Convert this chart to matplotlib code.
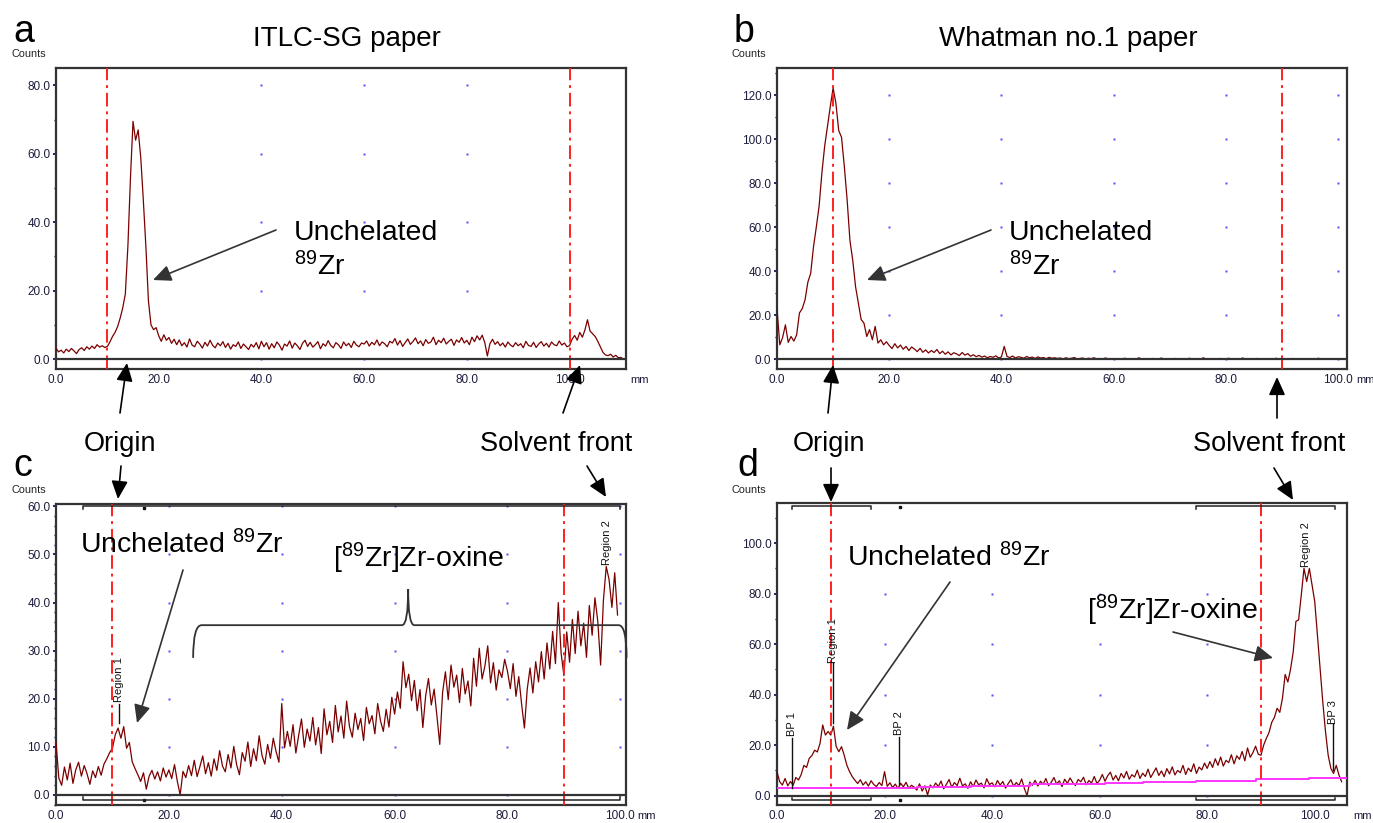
import numpy as np
import matplotlib
matplotlib.use('Agg')
import matplotlib.pyplot as plt
from matplotlib.patches import FancyArrowPatch, PathPatch
from matplotlib.path import Path
from matplotlib.ticker import MultipleLocator, FormatStrFormatter

# ---------------- data (counts sampled every 0.5 mm from 0 mm) ----------------
STEP_MM = 0.5

a_counts = [
    3.2, 2.1, 2.6, 1.8, 2.9, 2.2, 3.1, 2.4, 1.6, 2.8, 3.3, 2.5, 3.6, 2.9, 3.8, 3.1, 4.2, 3.5, 3.9, 3.4,
    3.7, 5.0, 6.6, 7.8, 9.5, 12.0, 15.0, 19.0, 33.0, 53.0, 69.5, 64.0, 67.0, 59.0, 46.6, 33.0, 17.0, 10.0, 8.6, 9.2,
    6.8, 5.2, 7.1, 5.5, 6.3, 4.6, 5.8, 4.2, 5.6, 3.9, 4.8, 3.5, 5.9, 4.1, 3.6, 5.2, 4.4, 3.2, 4.9, 3.8,
    5.5, 4.0, 3.3, 4.7, 3.9, 5.1, 3.4, 4.6, 2.9, 4.2, 3.7, 5.0, 3.1, 4.4, 3.6, 2.8, 4.3, 3.5, 4.8, 3.0,
    5.2, 3.6, 4.8, 2.9, 4.5, 3.3, 5.0, 4.1, 2.6, 4.4, 3.8, 5.3, 3.2, 4.7, 3.9, 2.8, 4.6, 5.5, 3.7, 4.9,
    3.5, 4.2, 5.1, 3.0, 4.5, 3.8, 5.4, 4.0, 3.3, 4.8, 4.2, 3.1, 5.0, 3.9, 4.6, 3.4, 5.2, 4.1, 3.6, 4.7,
    4.4, 5.3, 3.8, 4.9, 4.2, 5.6, 3.9, 5.0, 4.5, 3.6, 5.2, 4.7, 6.0, 4.1, 5.4, 3.7, 4.8, 5.9, 4.3, 5.1,
    6.2, 4.5, 5.3, 3.9, 5.7, 4.6, 5.0, 6.4, 4.2, 5.5, 4.8, 6.1, 4.4, 5.2, 5.8, 4.0, 5.6, 4.9, 6.3, 4.7,
    5.5, 4.2, 6.4, 5.1, 6.8, 5.6, 7.0, 4.8, 0.9, 4.5, 5.8, 4.3, 5.1, 3.9, 4.7, 3.5, 5.0, 4.1, 3.6, 4.8,
    3.9, 4.5, 3.3, 5.2, 4.0, 3.7, 4.9, 3.4, 4.4, 5.1, 3.8, 4.6, 3.5, 5.0, 4.2, 3.9, 5.3, 4.1, 4.7, 3.6,
    3.9, 5.8, 6.9, 5.5, 7.8, 6.4, 8.5, 11.5, 8.2, 7.4, 6.6, 5.2, 3.6, 2.0, 1.2, 1.0, 1.4, 0.6, 1.1, 0.4,
    0.5, 0.0,
]

b_counts = [
    23.0, 6.5, 9.8, 15.6, 7.6, 10.3, 8.2, 11.0, 21.0, 23.0, 27.0, 35.0, 39.0, 51.0, 60.0, 69.5, 84.7, 97.0, 106.0, 115.0,
    123.4, 116.5, 104.0, 101.0, 87.7, 72.5, 54.0, 45.0, 33.0, 25.5, 18.0, 16.4, 10.3, 13.4, 8.8, 14.9, 7.3, 8.8, 6.5, 7.9,
    6.2, 4.8, 7.0, 5.1, 6.4, 4.5, 5.8, 3.9, 5.5, 4.6, 3.4, 4.9, 3.1, 4.2, 2.8, 3.9, 3.0, 4.4, 2.5, 3.6,
    2.2, 3.3, 1.9, 2.9, 2.4, 1.6, 3.0, 1.8, 2.5, 1.3, 2.0, 1.1, 1.7, 0.9, 1.4, 0.6, 1.2, 0.8, 1.5, 0.5,
    1.0, 5.8, 1.2, 0.7, 1.4, 0.5, 1.1, 0.8, 0.4, 1.2, 0.6, 0.9, 0.3, 1.0, 0.5, 0.7, 0.2, 0.8, 0.4, 0.6,
    0.3, 0.5, 0.1, 0.6, 0.2, 0.4, 0.7, 0.1, 0.3, 0.5, 0.0, 0.4, 0.2, 0.6, 0.1, 0.3, 0.0, 0.5, 0.2, 0.1,
    0.0, 0.2, 0.0, 0.1, 0.4, 0.0, 0.0, 0.2, 0.0, 0.6, 0.0, 0.1, 0.0, 0.0, 0.3, 0.0, 0.0, 0.5, 0.0, 0.1,
    0.0, 0.0, 0.3, 0.0, 0.2, 0.0, 0.0, 0.4, 0.0, 0.0, 0.1, 0.0, 0.6, 0.0, 0.0, 0.2, 0.0, 0.0, 0.3, 0.0,
    0.0, 0.4, 0.0, 0.0, 0.2, 0.0, 0.5, 0.0, 0.0, 0.1, 0.0, 0.3, 0.0, 0.0, 0.0, 0.2, 0.0, 0.0, 0.4, 0.0,
    0.0, 0.0, 0.1, 0.0, 0.3, 0.0, 0.0, 0.0, 0.2, 0.0, 0.0, 0.0, 0.0, 0.4, 0.0, 0.0, 0.1, 0.0, 0.0, 0.0,
    0.0,
]

c_counts = [
    11.0, 3.5, 2.0, 5.8, 3.1, 6.6, 2.4, 5.2, 6.8, 3.9, 6.1, 4.4, 2.2, 5.0, 3.6, 5.9, 4.1, 6.4, 7.5, 8.8,
    9.7, 12.5, 13.9, 11.8, 14.2, 9.7, 10.9, 6.9, 5.5, 4.2, 2.8, 4.6, 1.2, 3.9, 5.1, 3.3, 4.8, 2.9, 5.6, 3.7,
    5.2, 3.4, 6.3, 2.8, 0.0, 4.9, 3.6, 6.1, 4.0, 7.2, 3.8, 5.9, 8.1, 4.4, 6.7, 3.9, 7.5, 5.1, 9.2, 6.0,
    4.8, 8.4, 5.6, 10.1, 6.3, 4.2, 8.8, 7.0, 11.0, 5.9, 9.6, 7.1, 12.3, 8.2, 6.4, 10.5, 7.6, 11.8, 9.0, 6.8,
    19.0, 9.8, 13.2, 10.1, 14.6, 8.7, 12.4, 15.8, 9.9, 13.7, 11.2, 16.1, 10.4, 14.0, 8.6, 17.9, 12.5, 15.3, 10.9, 18.6,
    13.1, 16.4, 11.8, 19.5, 14.2, 12.0, 17.0, 13.6, 15.9, 11.3, 18.2, 14.8, 16.5, 12.7, 19.0, 15.4, 13.2, 17.8, 14.1, 20.3,
    16.8, 21.4, 18.0, 27.7, 22.3, 25.1, 19.6, 23.8, 17.5, 21.9, 14.0, 20.6, 24.2, 18.7, 22.0, 16.4, 10.5, 21.3, 25.6, 19.8,
    27.0, 22.4, 24.9, 19.2, 26.3, 21.0, 23.7, 18.5, 28.4, 22.6, 30.5, 24.1, 26.8, 31.0, 23.3, 27.5, 21.8, 26.0, 24.4, 28.2,
    25.7, 22.1, 27.3, 20.5, 24.6, 18.9, 13.9, 22.0, 26.4, 21.2, 27.7, 23.5, 29.8, 24.1, 31.6, 26.2, 34.0, 27.3, 40.0, 29.5,
    24.8, 33.9, 27.6, 36.5, 29.4, 38.2, 31.0, 35.7, 28.6, 39.4, 33.2, 41.0, 36.1, 27.0, 40.5, 47.5, 44.8, 39.0, 46.2, 37.4,
]

d_counts = [
    9.5, 5.5, 4.2, 6.8, 3.9, 5.6, 4.1, 7.2, 6.2, 8.4, 12.0, 11.2, 14.8, 15.9, 18.0, 17.3, 20.7, 28.0, 24.0, 25.4,
    24.0, 27.5, 19.5, 17.4, 19.4, 16.0, 12.0, 9.5, 7.5, 6.1, 4.8, 6.3, 4.2, 5.5, 3.8, 5.9, 4.4, 3.6, 5.2, 4.0,
    9.5, 3.7, 5.1, 3.2, 4.6, 2.8, 4.9, 3.5, 5.3, 2.9, 4.1, 3.4, 2.2, 4.7, 1.8, 3.9, 0.3, 4.2, 3.1, 5.0,
    3.6, 5.8, 2.7, 4.5, 6.4, 3.3, 5.2, 4.0, 6.9, 3.8, 4.7, 2.9, 5.5, 3.6, 6.2, 4.3, 5.0, 3.1, 6.7, 4.4,
    5.1, 3.5, 6.0, 4.2, 5.6, 3.0, 4.8, 6.3, 3.7, 5.2, 4.0, 6.6, 2.9, 0.0, 5.4, 4.1, 6.1, 3.8, 5.7, 4.5,
    6.8, 3.9, 5.3, 7.2, 4.6, 5.9, 3.6, 6.5, 4.9, 7.0, 5.2, 4.0, 6.4, 5.5, 7.3, 4.3, 6.0, 5.0, 7.6, 4.8,
    6.1, 8.4, 5.7, 7.9, 9.3, 6.2, 8.0, 5.9, 8.8, 7.0, 9.6, 6.5, 8.3, 7.4, 10.1, 6.8, 8.9, 7.6, 10.5, 7.2,
    9.1, 11.0, 8.0, 9.8, 7.5, 10.7, 8.6, 11.4, 8.2, 10.0, 9.1, 12.0, 8.4, 10.9, 9.5, 12.6, 8.8, 11.3, 10.2, 12.9,
    10.8, 13.5, 11.2, 14.6, 12.0, 15.3, 11.7, 14.0, 13.1, 16.2, 12.6, 15.8, 14.4, 17.5, 13.8, 18.9, 15.2, 17.0, 19.6, 16.4,
    16.0, 20.0, 22.7, 25.0, 29.0, 31.0, 34.6, 33.0, 38.6, 48.0, 45.0, 50.0, 57.0, 69.0, 69.6, 79.5, 90.0, 84.8, 90.0, 83.5,
    76.9, 63.7, 50.5, 37.0, 25.4, 16.0, 10.8, 8.8, 12.0, 8.2, 5.5,
]

# background (magenta) line of panel d
d_bg_mm = [0, 26, 36, 47, 61, 68, 78, 89, 99, 106]
d_bg_counts = [3.2, 3.6, 4.0, 4.5, 4.9, 5.5, 5.9, 6.5, 6.9, 6.9]

tick_mm = [0, 20, 40, 60, 80, 100]

# ---------------- figure ----------------
W, H = 1373, 823
plt.rcParams['font.family'] = ['Liberation Sans', 'DejaVu Sans']
plt.rcParams['mathtext.fontset'] = 'custom'
plt.rcParams['mathtext.rm'] = 'Liberation Sans'
plt.rcParams['mathtext.it'] = 'Liberation Sans:italic'
plt.rcParams['mathtext.default'] = 'regular'

fig = plt.figure(figsize=(W / 100, H / 100), dpi=100)
fig.patch.set_facecolor('white')


def P(x, y):
    return (x / W, 1 - y / H)


def make_axes(l, t, r, b):
    return fig.add_axes([l / W, 1 - b / H, (r - l) / W, (b - t) / H])


TRACE = '#7a0000'
RED = '#ff2020'
TICKC = '#1c1c3c'


def setup(ax, xlim, ylim, ymaj, ymin, dots_x, dots_y, fronts):
    ax.set_xlim(*xlim)
    ax.set_ylim(*ylim)
    for s in ax.spines.values():
        s.set_linewidth(1.6)
        s.set_color('#333333')
    ax.axhline(0, color='#333333', lw=1.6, zorder=6)
    ax.set_xticks(tick_mm)
    ax.xaxis.set_major_formatter(FormatStrFormatter('%.1f'))
    ax.tick_params(axis='x', length=0, pad=3.5, labelsize=8.5, labelcolor=TICKC)
    ax.yaxis.set_major_locator(MultipleLocator(ymaj))
    ax.yaxis.set_minor_locator(MultipleLocator(ymin))
    ax.yaxis.set_major_formatter(FormatStrFormatter('%.1f'))
    ax.tick_params(axis='y', which='major', length=2.5, width=1.2, color='#000055',
                   labelsize=8.5, labelcolor=TICKC, pad=1.5)
    ax.tick_params(axis='y', which='minor', length=1.5, width=1.0, color='#000055')
    gx, gy = np.meshgrid(dots_x, dots_y)
    ax.plot(gx.ravel(), gy.ravel(), linestyle='none', marker='s', ms=1.6,
            mfc='#5050ff', mec='none', zorder=1)
    for f in fronts:
        ax.axvline(f, color=RED, lw=1.4, ls=(0, (7, 2.5, 1.5, 2.5)), zorder=5)


def mm_axis(values):
    return np.arange(len(values)) * STEP_MM


# ---- panel a ----
ax_a = make_axes(56, 68, 626, 369)
setup(ax_a, (0, 111), (-2.9, 85.1), 20, 10, [40, 60, 80], [0, 20, 40, 60, 80], [10, 100])
ax_a.plot(mm_axis(a_counts), a_counts, color=TRACE, lw=0.9, zorder=4)

# ---- panel b ----
ax_b = make_axes(777, 68, 1347, 369)
setup(ax_b, (0, 101.6), (-4.5, 132.5), 20, 10, [20, 40, 60, 80, 100], [0, 20, 40, 60, 80, 100, 120], [10, 90])
ax_b.plot(mm_axis(b_counts), b_counts, color=TRACE, lw=0.9, zorder=4)

# ---- panel c ----
ax_c = make_axes(56, 504, 626, 805)
setup(ax_c, (0, 101), (-2.1, 60.5), 10, 2, [20, 40, 60, 80, 100], [0, 10, 20, 30, 40, 50, 60], [10, 90])
ax_c.plot(mm_axis(c_counts), c_counts, color=TRACE, lw=0.9, zorder=4)

# ---- panel d ----
ax_d = make_axes(777, 503, 1347, 805)
setup(ax_d, (0, 106), (-3.7, 115.9), 20, 10, [20, 40, 60, 80], [0, 20, 40, 60, 80], [10, 90])
ax_d.plot(mm_axis(d_counts), d_counts, color=TRACE, lw=0.9, zorder=4)
ax_d.plot(d_bg_mm, d_bg_counts, color='#ff33ff', lw=1.4, drawstyle='steps-post', zorder=4)


# ---- region markers ----
def marker(ax, x, y0, y1, label, ylab):
    if y1 > y0:
        ax.plot([x, x], [y0, y1], color='#111111', lw=1.0, zorder=7)
    ax.text(x, ylab, label, rotation=90, ha='center', va='bottom', fontsize=8, color='#111111', zorder=7)


marker(ax_c, 11.2, 15.0, 19.0, 'Region 1', 19.3)
marker(ax_c, 97.6, 47.5, 47.5, 'Region 2', 47.8)
marker(ax_d, 2.7, 3.0, 22.9, 'BP 1', 23.7)
marker(ax_d, 10.4, 28.7, 52.5, 'Region 1', 52.5)
marker(ax_d, 22.7, 4.2, 23.2, 'BP 2', 23.9)
marker(ax_d, 98.4, 90.5, 90.5, 'Region 2', 90.5)
marker(ax_d, 103.4, 10.1, 28.2, 'BP 3', 28.5)


# ---- region brackets ----
def bracket(ax, x0, x1, y, dy):
    ax.plot([x0, x0, x1, x1], [y + dy, y, y, y + dy], color='#222222', lw=1.1, zorder=7, clip_on=False)


bracket(ax_c, 4.7, 99.9, 60.0, -0.6)
bracket(ax_c, 4.7, 99.9, -1.0, 0.5)
ax_c.plot([15.6, 15.6], [59.6, -1.0], linestyle='none', marker='s', ms=2.0, color='#111111')
bracket(ax_d, 2.7, 17.5, 114.8, -1.1)
bracket(ax_d, 78.0, 103.7, 114.8, -1.1)
bracket(ax_d, 2.7, 17.5, -1.8, 0.9)
bracket(ax_d, 78.0, 103.7, -1.8, 0.9)
ax_d.plot([22.8, 22.8], [114.2, -1.8], linestyle='none', marker='s', ms=2.0, color='#111111')

# ---- curly brace over the oxine region in panel c ----
brace_verts = [(24.3, 28.5), (24.3, 35.3), (25.8, 35.3), (61.3, 35.3), (62.4, 35.3), (62.4, 42.8),
               (62.4, 35.3), (63.5, 35.3), (99.7, 35.3), (101.1, 35.3), (101.1, 28.5)]
brace_codes = [Path.MOVETO, Path.CURVE3, Path.CURVE3, Path.LINETO, Path.CURVE3, Path.CURVE3,
               Path.CURVE3, Path.CURVE3, Path.LINETO, Path.CURVE3, Path.CURVE3]
ax_c.add_patch(PathPatch(Path(brace_verts, brace_codes), fc='none', ec='#333333', lw=1.3,
                         zorder=8, clip_on=False))

# ---- "mm" unit labels ----
for (xp, yp) in [(630, 380), (1356, 380), (637, 816), (1353, 816)]:
    fig.text(*P(xp, yp), 'mm', fontsize=8, color=TICKC, ha='left', va='center')

# ---- panel letters, "Counts", titles ----
for letter, (lx, ly), (cx, cy) in [('a', (13, 42), (11, 57)), ('b', (734, 42), (732, 57)),
                                    ('c', (13, 476), (11, 493)), ('d', (737, 476), (732, 493))]:
    fig.text(*P(lx, ly), letter, fontsize=27, ha='left', va='baseline')
    fig.text(*P(cx, cy), 'Counts', fontsize=7.8, ha='left', va='baseline', color='#222222')

fig.text(*P(347, 46), 'ITLC-SG paper', fontsize=20, ha='center', va='baseline')
fig.text(*P(1068, 46), 'Whatman no.1 paper', fontsize=20, ha='center', va='baseline')

# ---- annotation texts ----
TS = 20.5
fig.text(*P(294, 240), 'Unchelated', fontsize=TS, ha='left', va='baseline')
fig.text(*P(294, 275), r'$^{89}$Zr', fontsize=TS, ha='left', va='baseline')
fig.text(*P(1009, 240), 'Unchelated', fontsize=TS, ha='left', va='baseline')
fig.text(*P(1009, 275), r'$^{89}$Zr', fontsize=TS, ha='left', va='baseline')
for xo in (120, 829):
    fig.text(*P(xo, 451), 'Origin', fontsize=19.5, ha='center', va='baseline')
for xs in (556, 1269):
    fig.text(*P(xs, 451), 'Solvent front', fontsize=19.5, ha='center', va='baseline')
fig.text(*P(80, 553), r'Unchelated $^{89}$Zr', fontsize=TS, ha='left', va='baseline')
fig.text(*P(333, 567), r'[$^{89}$Zr]Zr-oxine', fontsize=TS, ha='left', va='baseline')
fig.text(*P(847, 566), r'Unchelated $^{89}$Zr', fontsize=TS, ha='left', va='baseline')
fig.text(*P(1087, 619), r'[$^{89}$Zr]Zr-oxine', fontsize=TS, ha='left', va='baseline')


# ---- arrows ----
def arrow(p0, p1, color='black', lw=1.2):
    fig.add_artist(FancyArrowPatch(P(*p0), P(*p1), transform=fig.transFigure,
                                   arrowstyle='-|>,head_length=0.55,head_width=0.25',
                                   mutation_scale=20, lw=lw, color=color,
                                   shrinkA=0, shrinkB=0, zorder=20))


arrow((276, 230), (153, 280), color='#333333')
arrow((991, 230), (867, 280), color='#333333')
arrow((120, 413), (127, 363))
arrow((563, 413), (580, 365))
arrow((828, 413), (833, 365))
arrow((1277, 418), (1277, 377))
arrow((121, 466), (118, 499))
arrow((587, 466), (606, 497))
arrow((831, 468), (831, 502))
arrow((1274, 468), (1293, 500))
arrow((183, 570), (137, 723), color='#333333')
arrow((950, 582), (847, 730), color='#333333')
arrow((1173, 632), (1273, 658), color='#333333')

fig.savefig('out.png', dpi=100, facecolor='white')
